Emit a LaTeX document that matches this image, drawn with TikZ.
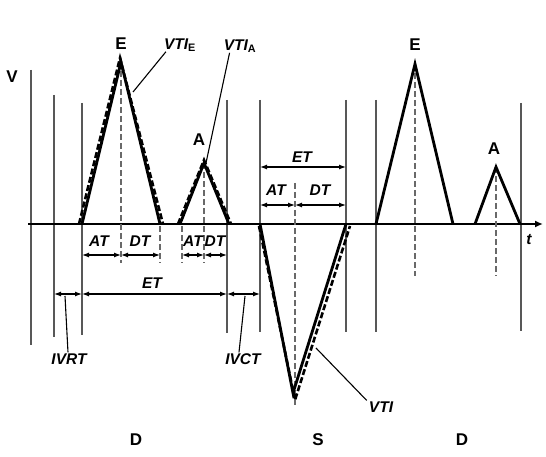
\documentclass[tikz,border=0pt]{standalone}
\usepackage{fontspec}
\setmainfont{Liberation Sans}
\usepackage{tikz}
\usetikzlibrary{arrows.meta,positioning}
\definecolor{mkGray}{RGB}{88,88,88}
\definecolor{dashGray}{RGB}{105,105,105}
\tikzset{
  axisline/.style={line width=2pt, -{Latex[length=8pt,width=7pt]}},
  marker/.style={mkGray, line width=1.6pt},
  wave/.style={line width=2.8pt, line join=miter},
  vtiline/.style={line width=2.6pt, dash pattern=on 6pt off 2.5pt},
  peakline/.style={dashGray, line width=1.8pt, dash pattern=on 6pt off 3pt},
  dimarrow/.style={line width=1.2pt, {Latex[length=7pt,width=5pt]}-{Latex[length=7pt,width=5pt]}},
  leader/.style={line width=1.1pt},
  lbl/.style={font=\bfseries\fontsize{17}{19}\selectfont, inner sep=0pt},
  tlbl/.style={font=\bfseries\itshape\fontsize{15.5}{17}\selectfont, inner sep=0pt},
}

\begin{document}
\begin{tikzpicture}[x=1pt,y=-1pt]
    \useasboundingbox (0,0) rectangle (546,457);
    \foreach \xm/\ya/\yb in {31/70/345, 54/95/337, 82/103/335, 227/100/333, 260/100/332, 346/100/332, 376/100/332, 521/103/331}
        \draw[marker] (\xm,\ya) -- (\xm,\yb);
    \coordinate (axL) at (28,224);
    \coordinate (axR) at (543,224);
    \draw[axisline] (axL) -- (axR);

    \coordinate (eStart) at (82,224);
    \coordinate (ePeak) at (121,62);
    \coordinate (eEnd) at (160,224);
    \coordinate (aStart) at (180,224);
    \coordinate (aPeak) at (204,163);
    \coordinate (aEnd) at (229,224);
    \coordinate (sStart) at (260,224);
    \coordinate (sPeak) at (293,393);
    \coordinate (sEnd) at (346,224);
    \coordinate (eTwoStart) at (376,224);
    \coordinate (eTwoPeak) at (415,64);
    \coordinate (eTwoEnd) at (453,224);
    \coordinate (aTwoStart) at (475,224);
    \coordinate (aTwoPeak) at (496,167);
    \coordinate (aTwoEnd) at (520,224);

    \draw[peakline] (ePeak) -- (121,263);
    \draw[peakline] (160,226) -- (160,263);
    \draw[peakline] (182,226) -- (182,263);
    \draw[peakline] (aPeak) -- (204,263);
    \draw[peakline] (295,183) -- (295,406);
    \draw[peakline] (eTwoPeak) -- (415,276);
    \draw[peakline] (aTwoPeak) -- (496,276);

    \draw[wave] (eStart) -- (ePeak) -- (eEnd);
    \draw[vtiline] (79,224) -- (120,58) -- (163,224);
    \draw[wave] (aStart) -- (aPeak) -- (aEnd);
    \draw[vtiline] (178,224) -- (204,160) -- (231,224);
    \draw[wave] (sStart) -- (sPeak) -- (sEnd);
    \draw[vtiline] (259,226) -- (295,400) -- (350,226);
    \draw[wave] (eTwoStart) -- (eTwoPeak) -- (eTwoEnd);
    \draw[wave] (aTwoStart) -- (aTwoPeak) -- (aTwoEnd);

    \node[lbl] (vLabel) at (12,77) {V};
    \node[tlbl] (tLabel) at (529,240) {t};
    \node[lbl] (eLabel) at (121,44) {E};
    \node[lbl] (aLabel) at (199,140) {A};
    \node[lbl] (eTwoLabel) at (415,45) {E};
    \node[lbl] (aTwoLabel) at (494,149) {A};
    \node[tlbl] (vtiELabel) at (180,45) {VTI\textsubscript{\upshape E}};
    \node[tlbl] (vtiALabel) at (240,46) {VTI\textsubscript{\upshape A}};
    \coordinate (vtiETip) at (133,92);
    \coordinate (vtiATip) at (206,163);
    \draw[leader] ([xshift=2pt]vtiELabel.south west) -- (vtiETip);
    \draw[leader] ([xshift=6pt]vtiALabel.south west) -- (vtiATip);

    \coordinate (atL) at (82,255);
    \coordinate (atM) at (121,255);
    \coordinate (atR) at (160,255);
    \coordinate (atTwoL) at (182,255);
    \coordinate (atTwoM) at (204,255);
    \coordinate (atTwoR) at (227,255);
    \draw[dimarrow] (atL) -- (atM);
    \draw[dimarrow] (atM) -- (atR);
    \draw[dimarrow] (atTwoL) -- (atTwoM);
    \draw[dimarrow] (atTwoM) -- (atTwoR);
    \node[tlbl] (atLabel) at (99,241) {AT};
    \node[tlbl] (dtLabel) at (140,241) {DT};
    \node[tlbl] (atTwoLabel) at (193,241) {AT};
    \node[tlbl] (dtTwoLabel) at (215,241) {DT};

    \coordinate (ivrL) at (54,294);
    \coordinate (etL) at (82,294);
    \coordinate (etR) at (227,294);
    \coordinate (ivcR) at (260,294);
    \draw[dimarrow] (ivrL) -- (etL);
    \draw[dimarrow] (etL) -- (etR);
    \draw[dimarrow] (etR) -- (ivcR);
    \node[tlbl] (etLabel) at (152,283) {ET};

    \coordinate (sEtL) at (260,167);
    \coordinate (sEtR) at (346,167);
    \coordinate (sAtL) at (260,205);
    \coordinate (sAtM) at (295,205);
    \coordinate (sAtR) at (346,205);
    \draw[dimarrow] (sEtL) -- (sEtR);
    \draw[dimarrow] (sAtL) -- (sAtM);
    \draw[dimarrow] (sAtM) -- (sAtR);
    \node[tlbl] (sEtLabel) at (302,157) {ET};
    \node[tlbl] (sAtLabel) at (276,190) {AT};
    \node[tlbl] (sDtLabel) at (320,190) {DT};

    \node[tlbl] (ivrtLabel) at (69,359) {IVRT};
    \node[tlbl] (ivctLabel) at (243,359) {IVCT};
    \node[tlbl] (vtiLabel) at (381,407) {VTI};
    \coordinate (ivrtTip) at (65,296);
    \coordinate (ivctTip) at (245,296);
    \coordinate (vtiTip) at (316,348);
    \draw[leader] (ivrtTip) -- ([xshift=-1pt,yshift=1pt]ivrtLabel.north);
    \draw[leader] (ivctTip) -- ([xshift=-4pt,yshift=1pt]ivctLabel.north);
    \draw[leader] (vtiTip) -- ([xshift=-2pt,yshift=1pt]vtiLabel.north west);

    \node[lbl] (dLeft) at (136,440) {D};
    \node[lbl] (sMid) at (318,440) {S};
    \node[lbl] (dRight) at (462,440) {D};
\end{tikzpicture}
\end{document}
